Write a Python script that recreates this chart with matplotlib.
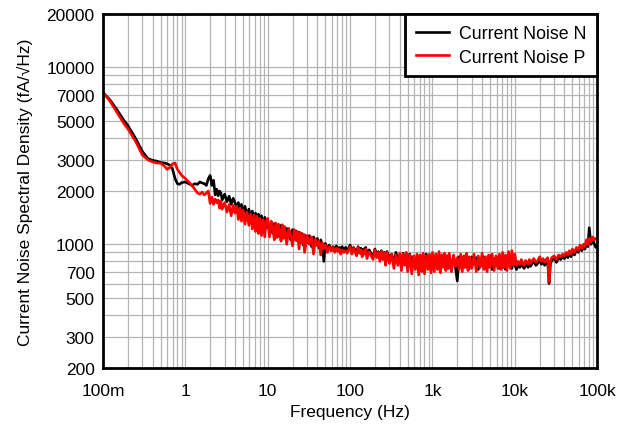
import numpy as np
import matplotlib
matplotlib.use("Agg")
import matplotlib.pyplot as plt
from matplotlib.ticker import FixedLocator, NullFormatter

plt.rcParams['font.family'] = ['Liberation Sans', 'DejaVu Sans']

# sweep points (Hz). low end typed out, the rest is one set of steps per decade
f_low = [0.1, 0.12, 0.15, 0.18, 0.2, 0.25, 0.3, 0.35, 0.4, 0.45, 0.5, 0.55, 0.6, 0.65, 0.7,
         0.75, 0.8, 0.85, 0.9, 1.0, 1.1, 1.2, 1.3, 1.4, 1.5, 1.6, 1.7, 1.8, 1.9]
steps = [10, 10.5, 11, 11.5, 12, 12.5, 13, 13.5, 14, 14.5,
         15, 15.5, 16, 17, 18, 19, 20, 21, 22, 23,
         24, 25, 26, 27, 28, 30, 32, 34, 36, 38,
         40, 42, 44, 46, 48, 50, 53, 56, 59, 62,
         65, 68, 71, 74, 77, 80, 84, 88, 92, 96]
f_1 = [s / 10 for s in steps[16:]]          # 2.0 .. 9.6 Hz
f_10 = [s * 1 for s in steps]
f_100 = [s * 10 for s in steps]
f_1k = [s * 100 for s in steps]
f_10k = [s * 1000 for s in steps]
f_end = [100000]

# Current Noise N (fA/rtHz)
n_low = [7200, 6600, 5700, 5000, 4700, 3950, 3350, 3050, 2980, 2950, 2900, 2880, 2850, 2800,
         2650, 2350, 2200, 2180, 2230, 2250, 2200, 2150, 2200, 2180, 2250, 2220, 2200, 2150, 2350]
n_1 = [2450, 2150, 2300, 1900,
       2050, 1880, 2000, 1950, 1780, 1920, 1740, 1870, 1680, 1820,
       1720, 1600, 1720, 1540, 1680, 1500, 1640, 1440, 1580, 1420,
       1540, 1380, 1500, 1340, 1480, 1300, 1450, 1260, 1420, 1240]
n_10 = [1330, 1180, 1290, 1150, 1310, 1120, 1260, 1200, 1100, 1280,
        1140, 1250, 1090, 1230, 1180, 1060, 1210, 1100, 1190, 1040,
        1170, 1080, 1150, 990, 1130, 1020, 1120, 970, 1100, 990,
        1080, 950, 1060, 990, 800, 1010, 940, 990, 920, 970,
        930, 980, 920, 960, 940, 970, 920, 960, 930, 950]
n_100 = [990, 900, 960, 930, 880, 970, 910, 950, 870, 940,
         900, 960, 860, 930, 890, 850, 940, 870, 910, 840,
         920, 860, 900, 800, 910, 840, 880, 780, 900, 820,
         870, 760, 890, 800, 860, 740, 880, 790, 850, 730,
         870, 780, 860, 720, 850, 800, 880, 740, 860, 760]
n_1k = [860, 740, 880, 760, 840, 720, 870, 780, 830, 740,
        860, 730, 850, 770, 820, 740, 620, 850, 760, 830,
        740, 860, 750, 820, 730, 850, 770, 840, 720, 830,
        760, 850, 730, 820, 750, 860, 720, 830, 760, 840,
        730, 850, 740, 820, 720, 840, 760, 830, 730, 850]
n_10k = [760, 720, 770, 740, 790, 750, 730, 780, 760, 740,
         790, 750, 770, 800, 760, 780, 820, 770, 800, 760,
         790, 810, 600, 770, 810, 830, 790, 840, 820, 850,
         830, 870, 840, 890, 850, 910, 870, 930, 900, 960,
         920, 970, 940, 1020, 970, 1240, 1000, 1060, 1010, 960]
n_end = [980]

# Current Noise P (fA/rtHz)
p_low = [7200, 6500, 5500, 4800, 4500, 3800, 3200, 3000, 2920, 2880, 2870, 2780, 2650, 2720,
         2850, 2880, 2650, 2550, 2450, 2350, 2250, 2150, 2050, 1950, 1920, 1970, 1900, 1950, 2000]
p_1 = [1700, 1850, 1680, 1800,
       1720, 1780, 1600, 1760, 1580, 1720, 1520, 1680, 1450, 1660,
       1500, 1640, 1380, 1600, 1350, 1560, 1300, 1520, 1280, 1480,
       1220, 1460, 1180, 1440, 1150, 1400, 1120, 1380, 1100, 1360]
p_10 = [1400, 1100, 1350, 1250, 1060, 1320, 1090, 1300, 1150, 1040,
        1290, 1080, 1260, 1000, 1230, 1120, 980, 1210, 1050, 1180,
        940, 1160, 1020, 1140, 900, 1120, 1000, 1100, 880, 1070,
        980, 1040, 870, 1020, 950, 990, 900, 970, 920, 960,
        900, 950, 910, 940, 880, 930, 900, 920, 890, 930]
p_100 = [970, 880, 950, 900, 860, 960, 890, 930, 850, 920,
         880, 940, 830, 910, 860, 820, 930, 840, 900, 800,
         910, 820, 890, 760, 900, 780, 880, 730, 870, 760,
         890, 710, 880, 760, 900, 700, 870, 680, 860, 720,
         880, 670, 870, 700, 890, 680, 860, 720, 880, 690]
p_1k = [900, 700, 880, 720, 910, 690, 870, 740, 890, 710,
        860, 730, 890, 700, 870, 750, 840, 720, 880, 700,
        860, 740, 890, 710, 850, 730, 880, 700, 860, 740,
        890, 720, 850, 700, 870, 740, 880, 710, 860, 730,
        880, 720, 900, 740, 870, 710, 910, 730, 920, 760]
p_10k = [880, 760, 800, 770, 820, 780, 760, 810, 790, 770,
         820, 780, 800, 830, 790, 810, 850, 800, 830, 790,
         820, 840, 610, 800, 840, 860, 820, 870, 850, 880,
         860, 900, 870, 920, 880, 940, 900, 960, 930, 990,
         950, 1000, 970, 1060, 1000, 1080, 1030, 1100, 1060, 1080]
p_end = [1050]

freq = np.array(f_low + f_1 + f_10 + f_100 + f_1k + f_10k + f_end, dtype=float)
noise_n = np.array(n_low + n_1 + n_10 + n_100 + n_1k + n_10k + n_end, dtype=float)
noise_p = np.array(p_low + p_1 + p_10 + p_100 + p_1k + p_10k + p_end, dtype=float)

x_ticks = [0.1, 1, 10, 100, 1000, 10000, 100000]
x_labels = ['100m', '1', '10', '100', '1k', '10k', '100k']
y_ticks = [200, 300, 500, 700, 1000, 2000, 3000, 5000, 7000, 10000, 20000]

fig = plt.figure(figsize=(6.28, 4.31), dpi=100)
ax = fig.add_axes([0.164, 0.144, 0.787, 0.821])

ax.plot(freq, noise_n, color='black', lw=1.9, label='Current Noise N')
ax.plot(freq, noise_p, color='#ff0000', lw=1.9, label='Current Noise P')

ax.set_xscale('log')
ax.set_yscale('log')
ax.set_xlim(0.1, 100000)
ax.set_ylim(200, 20000)

ax.xaxis.set_major_locator(FixedLocator(x_ticks))
ax.set_xticklabels(x_labels)
xminor = [m * 10.0 ** d for d in range(-1, 5) for m in range(2, 10)]
ax.xaxis.set_minor_locator(FixedLocator(xminor))
ax.xaxis.set_minor_formatter(NullFormatter())

yminor = [m * 10.0 ** d for d in range(2, 5) for m in range(2, 10)]
ax.yaxis.set_minor_locator(FixedLocator(yminor))
ax.yaxis.set_minor_formatter(NullFormatter())
ax.yaxis.set_major_locator(FixedLocator(y_ticks))
ax.set_yticklabels([str(v) for v in y_ticks])

ax.grid(which='both', color='#b4b4b4', lw=0.9)
ax.set_axisbelow(True)
ax.tick_params(which='both', length=0, labelsize=12.5, colors='black')
ax.tick_params(axis='x', pad=11)
ax.tick_params(axis='y', pad=6)
for s in ax.spines.values():
    s.set_linewidth(2)
    s.set_color('black')

ax.set_xlabel('Frequency (Hz)', fontsize=12.5, labelpad=4)
ax.set_ylabel('Current Noise Spectral Density (fA/\u221aHz)', fontsize=12.5, labelpad=10)

leg = ax.legend(loc='upper right', fontsize=12.8, frameon=True, fancybox=False,
                borderaxespad=0, handlelength=1.9, handletextpad=0.55,
                borderpad=0.6, labelspacing=0.38)
leg.get_frame().set_edgecolor('black')
leg.get_frame().set_linewidth(2)
leg.get_frame().set_alpha(1)

fig.savefig('out.png', dpi=100)
